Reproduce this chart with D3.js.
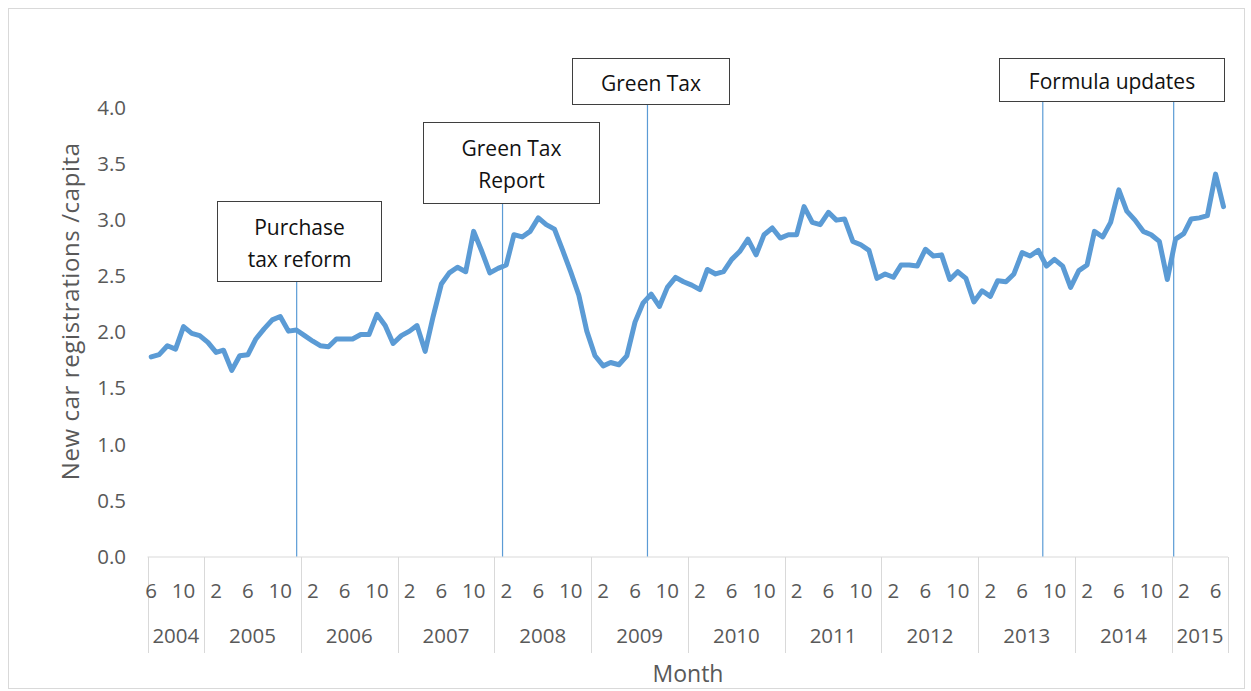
<!DOCTYPE html>
<html>
<head>
<meta charset="utf-8">
<script src="https://cdn.jsdelivr.net/npm/d3@7"></script>
<style>
  body { margin: 0; background: #fff; }
  svg { display: block; font-family: "Open Sans", sans-serif; }
</style>
</head>
<body>
<svg id="chart" width="1251" height="691"></svg>
<script>
// monthly series, Jun 2004 .. Jul 2015
const years = [2004, 2005, 2006, 2007, 2008, 2009, 2010, 2011, 2012, 2013, 2014, 2015]
const firstMonth = 6
const lastMonth = 7
const tickMonths = [2, 6, 10]
const yTicks = [0, 0.5, 1, 1.5, 2, 2.5, 3, 3.5, 4]

const values = [
    1.78, 1.80, 1.88, 1.85, 2.05, 1.99, 1.97,
    1.91, 1.82, 1.84, 1.66, 1.79, 1.80, 1.94, 2.03, 2.11, 2.14, 2.01, 2.02,
    1.97, 1.92, 1.88, 1.87, 1.94, 1.94, 1.94, 1.98, 1.98, 2.16, 2.06, 1.90,
    1.97, 2.01, 2.06, 1.83, 2.14, 2.43, 2.53, 2.58, 2.54, 2.90, 2.72, 2.53,
    2.57, 2.60, 2.87, 2.85, 2.90, 3.02, 2.96, 2.92, 2.73, 2.54, 2.33, 2.01,
    1.79, 1.70, 1.73, 1.71, 1.79, 2.09, 2.26, 2.34, 2.23, 2.40, 2.49, 2.45,
    2.42, 2.38, 2.56, 2.52, 2.54, 2.65, 2.72, 2.83, 2.69, 2.87, 2.93, 2.84,
    2.87, 2.87, 3.12, 2.98, 2.96, 3.07, 3.00, 3.01, 2.81, 2.78, 2.73, 2.48,
    2.52, 2.49, 2.60, 2.60, 2.59, 2.74, 2.68, 2.69, 2.47, 2.54, 2.48, 2.27,
    2.37, 2.32, 2.46, 2.45, 2.52, 2.71, 2.68, 2.73, 2.59, 2.65, 2.59, 2.40,
    2.55, 2.60, 2.90, 2.85, 2.98, 3.27, 3.08, 3.00, 2.90, 2.87, 2.81, 2.47,
    2.83, 2.88, 3.01, 3.02, 3.04, 3.41, 3.12
]

const eventDates = ['2005-12-16', '2008-02-01', '2009-08-01', '2013-09-01', '2015-01-08']
const eventLabels = [['Purchase', 'tax reform'], ['Green Tax', 'Report'], ['Green Tax'], ['Formula updates']]
const eventBox = [0, 1, 2, 3, 3]

// build month categories
const months = []
years.forEach(yr => {
    const from = yr === years[0] ? firstMonth : 1
    const to = yr === years[years.length - 1] ? lastMonth : 12
    for (let m = from; m <= to; m++) months.push({ year: yr, month: m })
})
const data = months.map((d, i) => ({ ...d, value: values[i], date: new Date(d.year, d.month - 1, 15) }))

const svg = d3.select('#chart')
const plotLeft = 147.5, plotRight = 1228, plotTop = 108, plotBottom = 556.5

// boxes for the annotations (layout only)
const boxes = [
    { x: 217.5, y: 201.5, w: 164, h: 80 },
    { x: 423.5, y: 122.5, w: 176, h: 81 },
    { x: 572.5, y: 58.5, w: 157, h: 46 },
    { x: 999.5, y: 58.5, w: 225, h: 43 }
]

const x = d3.scaleTime()
    .domain([new Date(years[0], firstMonth - 1, 1), new Date(years[years.length - 1], lastMonth, 1)])
    .range([plotLeft, plotRight])

const y = d3.scaleLinear()
    .domain([0, 4])
    .range([plotBottom, plotTop])

// outer frame
svg.append('rect')
    .attr('x', 8.5).attr('y', 8.5)
    .attr('width', 1236).attr('height', 680)
    .attr('fill', 'none')
    .attr('stroke', '#d9d9d9')

// y axis labels
svg.append('g')
    .selectAll('text')
    .data(yTicks)
    .join('text')
    .attr('x', 126)
    .attr('y', d => y(d))
    .attr('dy', '0.35em')
    .attr('text-anchor', 'end')
    .style('font-size', '20.5px')
    .style('fill', '#595959')
    .text(d => d3.format('.1f')(d))

svg.append('text')
    .attr('transform', `translate(79, ${(plotTop + plotBottom) / 2 - 21}) rotate(-90)`)
    .attr('text-anchor', 'middle')
    .style('font-size', '24px')
    .style('letter-spacing', '0.6px')
    .style('fill', '#595959')
    .text('New car registrations /capita')

// x axis: baseline and year separators
svg.append('line')
    .attr('x1', plotLeft).attr('x2', plotRight)
    .attr('y1', plotBottom + 0.5).attr('y2', plotBottom + 0.5)
    .attr('stroke', '#d9d9d9')

const yearBounds = [x.range()[0]].concat(years.slice(1).map(yr => x(new Date(yr, 0, 1)))).concat([x.range()[1]])
svg.append('g')
    .selectAll('line')
    .data(yearBounds)
    .join('line')
    .attr('x1', d => Math.round(d) + 0.5).attr('x2', d => Math.round(d) + 0.5)
    .attr('y1', plotBottom + 0.5).attr('y2', 653)
    .attr('stroke', '#d9d9d9')

svg.append('g')
    .selectAll('text')
    .data(data.filter(d => tickMonths.includes(d.month)))
    .join('text')
    .attr('x', d => x(d.date))
    .attr('y', 591)
    .attr('dy', '0.35em')
    .attr('text-anchor', 'middle')
    .style('font-size', '20.5px')
    .style('fill', '#595959')
    .text(d => d.month)

svg.append('g')
    .selectAll('text')
    .data(years)
    .join('text')
    .attr('x', (d, i) => (yearBounds[i] + yearBounds[i + 1]) / 2)
    .attr('y', 636)
    .attr('dy', '0.35em')
    .attr('text-anchor', 'middle')
    .style('font-size', '20.5px')
    .style('fill', '#595959')
    .text(d => d)

svg.append('text')
    .attr('x', 688)
    .attr('y', 674)
    .attr('dy', '0.35em')
    .attr('text-anchor', 'middle')
    .style('font-size', '23px')
    .style('fill', '#595959')
    .text('Month')

// event lines
svg.append('g')
    .selectAll('line')
    .data(eventDates)
    .join('line')
    .attr('x1', d => x(new Date(d))).attr('x2', d => x(new Date(d)))
    .attr('y1', (d, i) => boxes[eventBox[i]].y + boxes[eventBox[i]].h)
    .attr('y2', plotBottom)
    .attr('stroke', '#5b9bd5')
    .attr('stroke-width', 1.2)

// series line
svg.append('path')
    .datum(data)
    .attr('fill', 'none')
    .attr('stroke', '#5b9bd5')
    .attr('stroke-width', 5)
    .attr('stroke-linejoin', 'round')
    .attr('stroke-linecap', 'round')
    .attr('d', d3.line().x(d => x(d.date)).y(d => y(d.value)))

// annotation boxes
const notes = svg.append('g')
    .selectAll('g')
    .data(eventLabels)
    .join('g')

notes.append('rect')
    .attr('x', (d, i) => boxes[i].x)
    .attr('y', (d, i) => boxes[i].y)
    .attr('width', (d, i) => boxes[i].w)
    .attr('height', (d, i) => boxes[i].h)
    .attr('fill', '#fff')
    .attr('stroke', '#3f3f3f')

notes.each(function (lines, i) {
    const b = boxes[i]
    const lh = 32
    const y0 = b.y + b.h / 2 + 2 - (lines.length - 1) * lh / 2
    d3.select(this).selectAll('text')
        .data(lines)
        .join('text')
        .attr('x', b.x + b.w / 2)
        .attr('y', (d, j) => y0 + j * lh)
        .attr('dy', '0.35em')
        .attr('text-anchor', 'middle')
        .style('font-size', '21px')
        .style('fill', '#111')
        .text(d => d)
})
</script>
</body>
</html>
